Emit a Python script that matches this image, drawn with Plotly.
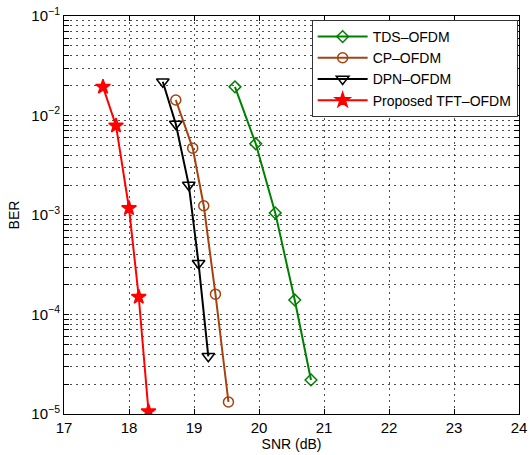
import plotly.graph_objects as go

snr_tds = [19.63, 19.95, 20.25, 20.55, 20.8]
ber_tds = [0.0194, 0.0052, 0.00105, 1.4e-4, 2.2e-5]

snr_cp = [18.72, 18.98, 19.15, 19.33, 19.53]
ber_cp = [0.0143, 0.0047, 0.00124, 1.6e-4, 1.32e-5]

snr_dpn = [18.52, 18.72, 18.92, 19.07, 19.22]
ber_dpn = [0.0218, 0.0082, 0.0020, 3.27e-4, 3.8e-5]

snr_tft = [17.6, 17.8, 18.0, 18.15, 18.3]
ber_tft = [0.0194, 0.0079, 0.00117, 1.5e-4, 1.06e-5]

x_ticks = [17, 18, 19, 20, 21, 22, 23, 24]
decades = [-5, -4, -3, -2, -1]

yvals, ytext = [], []
for d in decades:
    for m in range(1, 10):
        if d == -1 and m > 1:
            break
        yvals.append(m * 10.0 ** d)
        ytext.append(f"10<sup>\u2212{-d}</sup>" if m == 1 else "")

fig = go.Figure()
series = [
    ("TDS\u2013OFDM", snr_tds, ber_tds, "#008000", "diamond-open", 9),
    ("CP\u2013OFDM", snr_cp, ber_cp, "#a5420f", "circle-open", 10),
    ("DPN\u2013OFDM", snr_dpn, ber_dpn, "#000000", "triangle-down-open", 11),
    ("Proposed TFT\u2013OFDM", snr_tft, ber_tft, "#ff0000", "star", 11),
]
for name, x, y, c, sym, sz in series:
    fig.add_trace(go.Scatter(
        x=x, y=y, name=name, mode="lines+markers",
        line=dict(color=c, width=2),
        marker=dict(symbol=sym, size=sz, color=c, line=dict(color=c, width=1.5)),
    ))

axis_common = dict(
    showline=True, linecolor="black", linewidth=1, mirror="allticks",
    ticks="inside", ticklen=5, tickcolor="black",
    showgrid=True, gridcolor="rgba(0,0,0,0.7)", griddash="2px,4px", gridwidth=1,
    zeroline=False, tickfont=dict(size=15, color="black"), automargin=False,
)
fig.update_xaxes(range=[17, 24], tickvals=x_ticks,
                 title=dict(text="SNR (dB)", font=dict(size=14, color="black"), standoff=3),
                 **axis_common)
fig.update_yaxes(type="log", range=[-5, -1], tickvals=yvals, ticktext=ytext,
                 title=dict(text="BER", font=dict(size=14, color="black"), standoff=8),
                 **axis_common)

fig.update_layout(
    width=530, height=455,
    margin=dict(l=64, r=11, t=16, b=41),
    plot_bgcolor="white", paper_bgcolor="white",
    font=dict(family="Liberation Sans, Arial, sans-serif", color="black"),
    legend=dict(x=0.997, y=0.99, xanchor="right", yanchor="top",
                bgcolor="white", bordercolor="#333", borderwidth=1,
                font=dict(size=14), itemwidth=50, tracegroupgap=0),
    showlegend=True,
)
fig.write_html("out.html", config={"displayModeBar": False},
               post_script="document.body.style.margin='0';")
